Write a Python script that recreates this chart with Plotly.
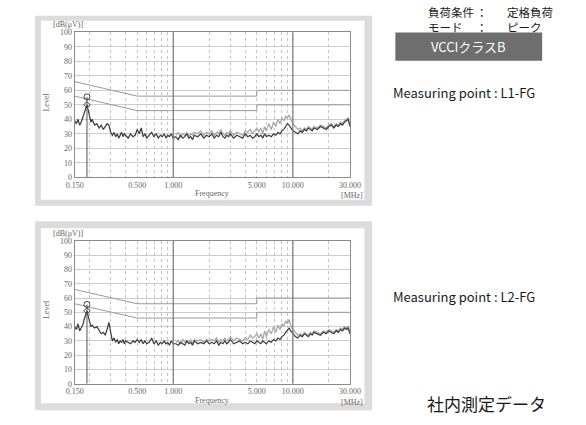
import math
import plotly.graph_objects as go

W, H = 586, 425

# ---------------- data ----------------
freq_mhz = [
    0.150, 0.155, 0.160, 0.165, 0.170, 0.175, 0.180, 0.185, 0.190, 0.195, 0.200,
    0.205, 0.210, 0.220, 0.230, 0.240, 0.250, 0.260, 0.270, 0.280, 0.290, 0.300,
    0.31, 0.32, 0.33, 0.34, 0.35, 0.36, 0.37, 0.38, 0.39, 0.40, 0.42, 0.44, 0.46, 0.48, 0.50,
    0.52, 0.54, 0.56, 0.58, 0.60, 0.63, 0.66, 0.69, 0.72, 0.75, 0.78, 0.81, 0.84, 0.87, 0.90, 0.93, 0.96, 1.00,
    1.05, 1.1, 1.15, 1.2, 1.25, 1.3, 1.35, 1.4, 1.45, 1.5, 1.6, 1.7, 1.8, 1.9, 2.0,
    2.1, 2.2, 2.3, 2.4, 2.5, 2.6, 2.7, 2.8, 2.9, 3.0, 3.2, 3.4, 3.6, 3.8, 4.0, 4.2, 4.4, 4.6, 4.8, 5.0,
    5.2, 5.4, 5.6, 5.8, 6.0, 6.3, 6.6, 6.9, 7.2, 7.5, 7.8, 8.1, 8.4, 8.7, 9.0, 9.3, 9.6, 10.0,
    10.5, 11, 11.5, 12, 12.5, 13, 13.5, 14, 14.5, 15, 16, 17, 18, 19, 20, 21, 22, 23, 24, 25, 26, 27, 28, 29, 30,
]

# L1-FG, dark trace (dB(uV))
l1_dark = [
    39, 37, 40, 36, 38, 41, 44, 47, 50, 46, 41,
    38, 40, 36, 37, 34, 36, 33, 35, 37, 36, 31,
    29, 31, 28, 30, 27, 29, 31, 28, 30, 29, 27, 30, 28, 29, 33,
    30, 34, 28, 30, 27, 29, 31, 28, 30, 27, 29, 28, 30, 27, 29, 28, 30, 27,
    28, 26, 29, 27, 28, 30, 27, 28, 26, 29, 28, 30, 27, 29, 28,
    30, 27, 29, 28, 31, 28, 27, 29, 28, 30, 27, 29, 28, 27, 30, 28, 29, 27, 28, 30,
    28, 29, 27, 30, 28, 29, 28, 30, 29, 31, 30, 32, 33, 35, 37, 36, 34, 32,
    31, 30, 32, 31, 33, 32, 34, 33, 32, 34, 33, 35, 34, 33, 35, 36, 34, 36, 35, 37, 36, 38, 39, 40, 35,
]
# L1-FG, grey trace from 1.05 MHz
l1_grey = [
    29, 31, 28, 30, 29, 31, 28, 30, 29, 31, 30, 32, 29, 31, 30,
    32, 29, 31, 30, 33, 30, 29, 31, 30, 32, 29, 31, 30, 29, 32, 31, 33, 30, 32, 34,
    31, 34, 30, 35, 32, 37, 33, 38, 35, 40, 37, 41, 39, 42, 41, 43, 40, 37,
    35, 33, 34, 32, 34, 33, 35, 34, 33, 35, 34, 36, 35, 34, 36, 37, 35, 37, 36, 38, 37, 39, 40, 41, 36,
]

# L2-FG, dark trace
l2_dark = [
    40, 38, 42, 37, 39, 41, 45, 48, 51, 47, 42,
    40, 41, 39, 40, 37, 35, 36, 34, 38, 43, 36,
    30, 32, 29, 31, 28, 30, 29, 31, 28, 30, 29, 28, 30, 29, 31,
    29, 31, 28, 30, 28, 29, 32, 28, 30, 27, 29, 28, 30, 28, 29, 27, 30, 28,
    28, 27, 29, 28, 27, 30, 28, 29, 27, 30, 28, 29, 28, 30, 28,
    29, 28, 30, 27, 29, 28, 30, 28, 29, 31, 28, 29, 30, 28, 29, 28, 30, 29, 28, 30,
    29, 28, 30, 29, 28, 30, 29, 31, 30, 32, 31, 33, 34, 36, 38, 39, 37, 35,
    33, 32, 34, 33, 35, 34, 33, 35, 34, 36, 35, 34, 36, 35, 37, 36, 35, 37, 36, 38, 37, 39, 38, 39, 35,
]
# L2-FG, grey trace from 1.05 MHz
l2_grey = [
    29, 30, 28, 31, 29, 30, 29, 31, 28, 31, 30, 31, 29, 31, 30,
    31, 30, 32, 29, 31, 30, 32, 30, 31, 33, 30, 32, 31, 30, 32, 31, 34, 32, 33, 35,
    32, 35, 31, 37, 33, 38, 35, 40, 36, 41, 38, 42, 40, 44, 42, 45, 41, 38,
    36, 34, 35, 34, 36, 35, 34, 36, 35, 37, 36, 35, 37, 36, 38, 37, 36, 38, 37, 39, 38, 40, 39, 40, 36,
]
grey_start = 1.05

# VCCI class B limits
limit_freq = [0.15, 0.5, 5, 5, 30]
limit_qp = [66, 56, 56, 60, 60]
limit_av = [56, 46, 46, 50, 50]

# peak markers
peak_freq = [0.19, 0.19]
peak_qp = [55.5, 55.5]
peak_av = [50, 51]

grid_freqs = [0.15, 0.2, 0.3, 0.4, 0.5, 0.6, 0.7, 0.8, 0.9, 1, 2, 3, 4, 5, 6, 7, 8, 9, 10, 20, 30]
freq_labels = {0.15: "0.150", 0.5: "0.500", 1: "1.000", 5: "5.000", 10: "10.000", 30: "30.000"}
major_freqs = [1, 10]
level_ticks = list(range(0, 101, 10))

points = ["Measuring point : L1-FG", "Measuring point : L2-FG"]

# ---------------- layout helpers ----------------
def px(x):
    return x / W

def py(y):
    return 1 - y / H

panels = [
    dict(pt=12, pb=206, it=17, ib=200, yt=29, yb=177),
    dict(pt=222, pb=415, it=229, ib=408, yt=242, yb=388),
]
PLOT_L, PLOT_R = 68, 353

fig = go.Figure()
shapes = []
annotations = []
serif = dict(family="Liberation Serif", size=8, color="#666666")

gi = freq_mhz.index(grey_start)
series = [(l1_dark, l1_grey), (l2_dark, l2_grey)]

for k, p in enumerate(panels):
    xa = "x" if k == 0 else "x2"
    ya = "y" if k == 0 else "y2"
    dark, grey = series[k]
    fig.add_trace(go.Scatter(x=limit_freq, y=limit_qp, mode="lines", xaxis=xa, yaxis=ya,
                             line=dict(color="#9a9a9a", width=1), showlegend=False, hoverinfo="skip"))
    fig.add_trace(go.Scatter(x=limit_freq, y=limit_av, mode="lines", xaxis=xa, yaxis=ya,
                             line=dict(color="#9a9a9a", width=1), showlegend=False, hoverinfo="skip"))
    fig.add_trace(go.Scatter(x=freq_mhz[gi:], y=grey, mode="lines", xaxis=xa, yaxis=ya,
                             line=dict(color="#a8a8a8", width=1.3), showlegend=False))
    fig.add_trace(go.Scatter(x=freq_mhz, y=dark, mode="lines", xaxis=xa, yaxis=ya,
                             line=dict(color="#3a3a3a", width=1.2), showlegend=False))
    fig.add_trace(go.Scatter(x=[peak_freq[k], peak_freq[k]], y=[0, peak_qp[k]], mode="lines",
                             xaxis=xa, yaxis=ya, line=dict(color="#555555", width=1),
                             showlegend=False, hoverinfo="skip"))
    fig.add_trace(go.Scatter(x=[peak_freq[k]], y=[peak_qp[k]], mode="markers", xaxis=xa, yaxis=ya,
                             marker=dict(symbol="circle-open", size=6, color="#444444", line=dict(width=1)),
                             showlegend=False))
    fig.add_trace(go.Scatter(x=[peak_freq[k]], y=[peak_av[k]], mode="markers", xaxis=xa, yaxis=ya,
                             marker=dict(symbol="diamond-open", size=5, color="#444444", line=dict(width=1)),
                             showlegend=False))

    shapes.append(dict(type="rect", xref="paper", yref="paper", layer="below",
                       x0=px(27), x1=px(376), y0=py(p["pb"]), y1=py(p["pt"]),
                       fillcolor="#dcdcdc", line=dict(width=0)))
    shapes.append(dict(type="rect", xref="paper", yref="paper", layer="below",
                       x0=px(33), x1=px(368), y0=py(p["ib"]), y1=py(p["it"]),
                       fillcolor="#ffffff", line=dict(width=0)))
    for f in major_freqs:
        shapes.append(dict(type="line", xref=xa, yref=ya + " domain", x0=f, x1=f, y0=0, y1=1,
                           line=dict(color="#777777", width=1.2), layer="above"))

    annotations += [
        dict(text="[dB(μV)]", x=px(44), y=py(p["yt"] - 8), xref="paper", yref="paper",
             xanchor="left", yanchor="middle", showarrow=False, font=serif),
        dict(text="Level", x=px(39), y=py((p["yt"] + p["yb"]) / 2 - 3), xref="paper", yref="paper",
             xanchor="center", yanchor="middle", showarrow=False, textangle=-90, font=serif),
        dict(text="Frequency", x=px((PLOT_L + PLOT_R) / 2), y=py(p["yb"] + 17), xref="paper", yref="paper",
             xanchor="center", yanchor="middle", showarrow=False, font=serif),
        dict(text="[MHz]", x=px(355), y=py(p["yb"] + 19), xref="paper", yref="paper",
             xanchor="center", yanchor="middle", showarrow=False, borderpad=0, font=serif),
    ]

    xaxis = dict(type="log", domain=[px(PLOT_L), px(PLOT_R)],
                 range=[math.log10(0.15), math.log10(30)],
                 tickvals=grid_freqs, ticktext=[freq_labels.get(f, "") for f in grid_freqs],
                 showgrid=True, gridcolor="#c4c4c4", griddash="dot", gridwidth=1,
                 showline=True, mirror=True, linecolor="#8a8a8a", linewidth=1,
                 ticks="", tickfont=serif, zeroline=False, anchor=ya, fixedrange=True)
    yaxis = dict(domain=[py(p["yb"]), py(p["yt"])], range=[0, 100], tickvals=level_ticks,
                 showgrid=True, gridcolor="#cccccc", gridwidth=1,
                 showline=True, mirror=True, linecolor="#8a8a8a", linewidth=1,
                 ticks="", tickfont=serif, zeroline=False, anchor=xa, fixedrange=True)
    if k == 0:
        fig.update_layout(xaxis=xaxis, yaxis=yaxis)
    else:
        fig.update_layout(xaxis2=xaxis, yaxis2=yaxis)

jp = "Noto Sans CJK JP"
shapes.append(dict(type="rect", xref="paper", yref="paper", x0=px(400), x1=px(552),
                   y0=py(58), y1=py(29), fillcolor="#6e6e6e", line=dict(width=0)))
header = [
    dict(text="負荷条件", x=px(433), y=py(8), xanchor="left", yanchor="middle"),
    dict(text="：", x=px(490), y=py(8), xanchor="center", yanchor="middle"),
    dict(text="定格負荷", x=px(515), y=py(8), xanchor="left", yanchor="middle"),
    dict(text="モード", x=px(433), y=py(23), xanchor="left", yanchor="middle"),
    dict(text="：", x=px(490), y=py(23), xanchor="center", yanchor="middle"),
    dict(text="ピーク", x=px(515), y=py(23), xanchor="left", yanchor="middle"),
]
for a in header:
    a.update(xref="paper", yref="paper", showarrow=False, borderpad=0,
             font=dict(family=jp, size=11.5, color="#1a1a1a"))
annotations += header

annotations += [
    dict(text="VCCIクラスB", x=px(476), y=py(43.5), xref="paper", yref="paper", showarrow=False,
         xanchor="center", yanchor="middle", font=dict(family=jp, size=13, color="#ffffff")),
    dict(text=points[0], x=px(396), y=py(90), xref="paper", yref="paper", showarrow=False,
         xanchor="left", yanchor="middle", font=dict(family=jp, size=13, color="#1a1a1a")),
    dict(text=points[1], x=px(396), y=py(299), xref="paper", yref="paper", showarrow=False,
         xanchor="left", yanchor="middle", font=dict(family=jp, size=13, color="#1a1a1a")),
    dict(text="社内測定データ", x=px(431), y=py(408), xref="paper", yref="paper", showarrow=False,
         xanchor="left", yanchor="middle", font=dict(family=jp, size=17, color="#1a1a1a")),
]

fig.update_layout(width=W, height=H, margin=dict(l=0, r=0, t=0, b=0),
                  paper_bgcolor="#ffffff", plot_bgcolor="rgba(0,0,0,0)",
                  shapes=shapes, annotations=annotations, showlegend=False)

fig.write_html("out.html", config={"displayModeBar": False},
               post_script="document.body.style.margin='0px';")
